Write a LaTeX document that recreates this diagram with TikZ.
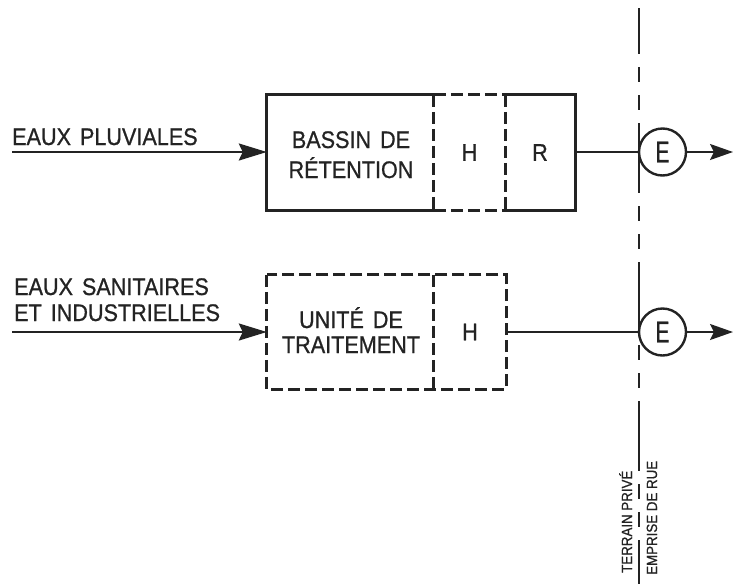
\documentclass[tikz,border=0pt]{standalone}
\usepackage{fontspec}
\setmainfont{Liberation Sans}[FakeStretch=0.9,FakeBold=0.8]
\usetikzlibrary{arrows.meta}
\definecolor{ink}{RGB}{35,35,35}
\newcommand\mylblfont{\fontsize{24}{28}\selectfont\spaceskip=9pt\relax}
\begin{document}
\begin{tikzpicture}[x=1pt,y=-1pt,
  heavy/.style={line width=2.8pt, draw=ink},
  dashln/.style={line width=2.8pt, draw=ink, dash pattern=on 12pt off 5pt},
  conn/.style={line width=1.8pt, draw=ink},
  inarrow/.style={line width=2.4pt, draw=ink, -{Stealth[length=28pt,width=17pt,inset=4pt]}},
  outarrow/.style={line width=2pt, draw=ink, -{Stealth[length=23pt,width=16pt,inset=4pt]}},
  sect/.style={rectangle, inner sep=0pt, minimum height=115pt},
  lbl/.style={font=\mylblfont, text=ink, inner sep=0pt},
  vlbl/.style={font=\fontsize{14.8}{17}\selectfont, text=ink, inner sep=0pt, rotate=90, anchor=base west},
  ecirc/.style={circle, draw=ink, line width=2.4pt, minimum size=47pt, inner sep=0pt, text=ink,
                font=\fontsize{30}{32}\selectfont},
  axisline/.style={line width=2pt, draw=ink,
    dash pattern=on 70pt off 13pt on 15pt off 13pt on 15pt off 13pt, dash phase=24pt}]
\useasboundingbox (0,0) rectangle (733,584);

% property line
\coordinate (axtop) at (639,8);
\coordinate (axbot) at (639,584);
\draw[axisline] (axtop) -- (axbot);
\node[vlbl] (terrain) at (632,573) {TERRAIN PRIVÉ};
\node[vlbl] (emprise) at (657,575) {EMPRISE DE RUE};

% top chain
\node[sect, minimum width=167pt] (bassin) at (350.5,152.5) {};
\node[sect, minimum width=71pt] (hT) at (469.5,152.5) {};
\node[sect, minimum width=70pt] (rT) at (540,152.5) {};
\draw[heavy] (bassin.north east) -- (bassin.north west) -- (bassin.south west) -- (bassin.south east);
\draw[dashln] (hT.north west) -- (hT.south west);
\draw[dashln] (hT.north east) -- (hT.south east);
\draw[dashln] (hT.north west) -- (hT.north east);
\draw[dashln] (hT.south west) -- (hT.south east);
\draw[heavy] (rT.north west) -- (rT.north east) -- (rT.south east) -- (rT.south west);
\node[lbl, anchor=base] (bassinA) at (351,148) {BASSIN DE};
\node[lbl, anchor=base] (bassinB) at (351,178) {RÉTENTION};
\node[lbl] (hTt) at (hT.center) {H};
\node[lbl] (rTt) at (rT.center) {R};
\node[ecirc] (eT) at (662.5,152) {\scalebox{0.78}[1]{E}};

\node[lbl, anchor=base west] (pluv) at (12,145) {EAUX PLUVIALES};
\coordinate (pluvstart) at (12,152);
\draw[inarrow] (pluvstart) -- (pluvstart -| bassin.west);
\draw[conn] (rT.east |- eT.west) -- (eT.west);
\coordinate (outT) at (733,152);
\draw[outarrow] (eT.east) -- (outT);

% bottom chain
\node[sect, minimum width=167pt, minimum height=114pt] (unite) at (350.5,332) {};
\node[sect, minimum width=72pt, minimum height=114pt] (hB) at (470,332) {};
\draw[dashln] (unite.north west) rectangle (hB.south east);
\draw[dashln] (hB.north west) -- (hB.south west);
\node[lbl, anchor=base] (uniteA) at (351,328) {UNITÉ DE};
\node[lbl, anchor=base] (uniteB) at (351,353) {TRAITEMENT};
\node[lbl] (hBt) at (hB.center) {H};
\node[ecirc] (eB) at (662.5,332) {\scalebox{0.78}[1]{E}};

\node[lbl, anchor=base west] (sanA) at (14,295) {EAUX SANITAIRES};
\node[lbl, anchor=base west] (sanB) at (14,321) {ET INDUSTRIELLES};
\coordinate (sanstart) at (12,332);
\draw[inarrow] (sanstart) -- (sanstart -| unite.west);
\draw[conn] (hB.east |- eB.west) -- (eB.west);
\coordinate (outB) at (733,332);
\draw[outarrow] (eB.east) -- (outB);
\end{tikzpicture}
\end{document}
